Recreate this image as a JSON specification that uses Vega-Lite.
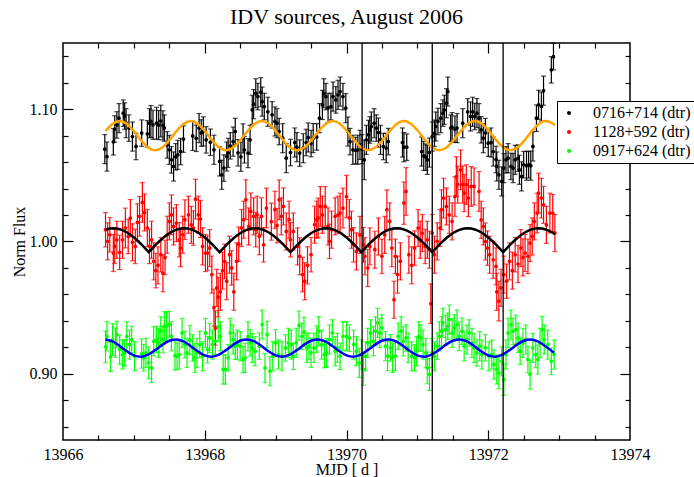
{
"$schema":"https://vega.github.io/schema/vega-lite/v6.json",
"width":567,"height":397,
"autosize":{"type":"none"},
"padding":{"left":63,"top":43,"right":64,"bottom":37},
"background":"white",
"title":{"text":"IDV sources, August 2006","font":"Liberation Serif, Times New Roman, Times, serif","fontSize":22,"fontWeight":"normal","color":"black","anchor":"middle","baseline":"alphabetic","offset":-4,"frame":"group"},
"config":{"view":{"stroke":"black","strokeWidth":1.5},"axis":{"labelFont":"Liberation Serif, Times New Roman, Times, serif","titleFont":"Liberation Serif, Times New Roman, Times, serif","labelFontSize":16,"titleFontSize":16,"titleFontWeight":"normal","labelColor":"black","titleColor":"black","tickColor":"black","tickWidth":1.2,"domain":false,"grid":false,"labelFlush":false}},
"datasets":{
"k":[
{"t":13966.59,"v":1.0698,"e":0.011},{"t":13966.62,"v":1.0642,"e":0.011},{"t":13966.71,"v":1.0753,"e":0.010},{"t":13966.73,"v":1.085,"e":0.010},{"t":13966.76,"v":1.0881,"e":0.010},{"t":13966.79,"v":1.0932,"e":0.011},{"t":13966.85,"v":1.097,"e":0.010},{"t":13966.87,"v":1.0948,"e":0.010},{"t":13966.89,"v":1.0894,"e":0.011},{"t":13966.93,"v":1.0857,"e":0.010},{"t":13966.98,"v":1.0793,"e":0.011},{"t":13967.03,"v":1.0718,"e":0.010},{"t":13967.11,"v":1.0819,"e":0.010},{"t":13967.19,"v":1.0814,"e":0.010},{"t":13967.22,"v":1.0894,"e":0.011},{"t":13967.24,"v":1.0907,"e":0.012},{"t":13967.27,"v":1.0882,"e":0.011},{"t":13967.32,"v":1.0894,"e":0.012},{"t":13967.35,"v":1.088,"e":0.011},{"t":13967.38,"v":1.091,"e":0.012},{"t":13967.41,"v":1.0878,"e":0.011},{"t":13967.43,"v":1.0857,"e":0.010},{"t":13967.47,"v":1.073,"e":0.010},{"t":13967.5,"v":1.0693,"e":0.011},{"t":13967.53,"v":1.0617,"e":0.010},{"t":13967.56,"v":1.0567,"e":0.011},{"t":13967.59,"v":1.064,"e":0.010},{"t":13967.62,"v":1.0655,"e":0.011},{"t":13967.66,"v":1.068,"e":0.010},{"t":13967.7,"v":1.0774,"e":0.010},{"t":13967.83,"v":1.0798,"e":0.011},{"t":13967.88,"v":1.078,"e":0.010},{"t":13967.92,"v":1.0857,"e":0.011},{"t":13967.95,"v":1.082,"e":0.010},{"t":13967.98,"v":1.0832,"e":0.011},{"t":13968.02,"v":1.0768,"e":0.010},{"t":13968.08,"v":1.075,"e":0.010},{"t":13968.13,"v":1.0693,"e":0.011},{"t":13968.21,"v":1.0605,"e":0.011},{"t":13968.24,"v":1.0504,"e":0.011},{"t":13968.27,"v":1.0555,"e":0.010},{"t":13968.31,"v":1.0642,"e":0.011},{"t":13968.33,"v":1.067,"e":0.011},{"t":13968.36,"v":1.0723,"e":0.010},{"t":13968.4,"v":1.0755,"e":0.011},{"t":13968.43,"v":1.0831,"e":0.010},{"t":13968.47,"v":1.067,"e":0.010},{"t":13968.51,"v":1.064,"e":0.011},{"t":13968.54,"v":1.0779,"e":0.011},{"t":13968.56,"v":1.0693,"e":0.010},{"t":13968.61,"v":1.0668,"e":0.011},{"t":13968.64,"v":1.0768,"e":0.011},{"t":13968.67,"v":1.0995,"e":0.011},{"t":13968.69,"v":1.1038,"e":0.011},{"t":13968.72,"v":1.112,"e":0.011},{"t":13968.75,"v":1.1095,"e":0.010},{"t":13968.79,"v":1.1128,"e":0.011},{"t":13968.81,"v":1.1057,"e":0.011},{"t":13968.84,"v":1.102,"e":0.010},{"t":13968.89,"v":1.098,"e":0.011},{"t":13968.95,"v":1.0957,"e":0.010},{"t":13968.99,"v":1.0907,"e":0.011},{"t":13969.02,"v":1.0894,"e":0.011},{"t":13969.05,"v":1.0831,"e":0.010},{"t":13969.1,"v":1.0781,"e":0.011},{"t":13969.15,"v":1.063,"e":0.011},{"t":13969.21,"v":1.0672,"e":0.010},{"t":13969.27,"v":1.0748,"e":0.011},{"t":13969.3,"v":1.0713,"e":0.011},{"t":13969.34,"v":1.0668,"e":0.010},{"t":13969.39,"v":1.0705,"e":0.011},{"t":13969.43,"v":1.0748,"e":0.010},{"t":13969.46,"v":1.0786,"e":0.011},{"t":13969.5,"v":1.074,"e":0.010},{"t":13969.53,"v":1.0781,"e":0.011},{"t":13969.58,"v":1.079,"e":0.010},{"t":13969.62,"v":1.0932,"e":0.011},{"t":13969.66,"v":1.1032,"e":0.011},{"t":13969.68,"v":1.112,"e":0.011},{"t":13969.71,"v":1.1095,"e":0.010},{"t":13969.74,"v":1.101,"e":0.011},{"t":13969.78,"v":1.102,"e":0.010},{"t":13969.81,"v":1.1095,"e":0.011},{"t":13969.85,"v":1.107,"e":0.010},{"t":13969.88,"v":1.1108,"e":0.011},{"t":13969.91,"v":1.1133,"e":0.011},{"t":13969.95,"v":1.1095,"e":0.010},{"t":13969.99,"v":1.1008,"e":0.011},{"t":13970.02,"v":1.0831,"e":0.011},{"t":13970.05,"v":1.0755,"e":0.010},{"t":13970.09,"v":1.0693,"e":0.011},{"t":13970.13,"v":1.0688,"e":0.010},{"t":13970.16,"v":1.0693,"e":0.011},{"t":13970.19,"v":1.073,"e":0.011},{"t":13970.22,"v":1.0698,"e":0.011},{"t":13970.25,"v":1.0617,"e":0.015},{"t":13970.28,"v":1.0768,"e":0.011},{"t":13970.31,"v":1.0806,"e":0.011},{"t":13970.33,"v":1.0843,"e":0.010},{"t":13970.35,"v":1.0869,"e":0.011},{"t":13970.39,"v":1.0894,"e":0.011},{"t":13970.42,"v":1.0857,"e":0.010},{"t":13970.45,"v":1.0823,"e":0.011},{"t":13970.48,"v":1.0768,"e":0.011},{"t":13970.52,"v":1.0718,"e":0.010},{"t":13970.56,"v":1.0706,"e":0.011},{"t":13970.59,"v":1.0755,"e":0.010},{"t":13970.79,"v":1.0748,"e":0.011},{"t":13970.81,"v":1.0713,"e":0.011},{"t":13970.85,"v":1.0713,"e":0.010},{"t":13971.06,"v":1.068,"e":0.011},{"t":13971.09,"v":1.0647,"e":0.011},{"t":13971.12,"v":1.0637,"e":0.010},{"t":13971.14,"v":1.0617,"e":0.011},{"t":13971.17,"v":1.0672,"e":0.011},{"t":13971.21,"v":1.0793,"e":0.011},{"t":13971.24,"v":1.0818,"e":0.010},{"t":13971.26,"v":1.0869,"e":0.011},{"t":13971.29,"v":1.0907,"e":0.010},{"t":13971.33,"v":1.0932,"e":0.011},{"t":13971.36,"v":1.097,"e":0.010},{"t":13971.38,"v":1.0995,"e":0.011},{"t":13971.41,"v":1.1045,"e":0.011},{"t":13971.43,"v":1.1133,"e":0.011},{"t":13971.47,"v":1.0857,"e":0.010},{"t":13971.49,"v":1.0864,"e":0.011},{"t":13971.53,"v":1.0849,"e":0.010},{"t":13971.56,"v":1.0857,"e":0.011},{"t":13971.64,"v":1.0894,"e":0.011},{"t":13971.71,"v":1.098,"e":0.010},{"t":13971.75,"v":1.0945,"e":0.011},{"t":13971.78,"v":1.098,"e":0.011},{"t":13971.81,"v":1.0945,"e":0.010},{"t":13971.84,"v":1.097,"e":0.011},{"t":13971.87,"v":1.0932,"e":0.011},{"t":13971.9,"v":1.0844,"e":0.010},{"t":13971.93,"v":1.0781,"e":0.011},{"t":13971.96,"v":1.082,"e":0.011},{"t":13972.0,"v":1.0743,"e":0.010},{"t":13972.04,"v":1.0748,"e":0.011},{"t":13972.07,"v":1.068,"e":0.011},{"t":13972.11,"v":1.062,"e":0.010},{"t":13972.12,"v":1.0567,"e":0.011},{"t":13972.15,"v":1.0504,"e":0.011},{"t":13972.19,"v":1.0454,"e":0.011},{"t":13972.22,"v":1.0555,"e":0.011},{"t":13972.25,"v":1.0617,"e":0.010},{"t":13972.28,"v":1.063,"e":0.011},{"t":13972.32,"v":1.0567,"e":0.010},{"t":13972.35,"v":1.0555,"e":0.011},{"t":13972.38,"v":1.0617,"e":0.011},{"t":13972.42,"v":1.063,"e":0.010},{"t":13972.44,"v":1.0542,"e":0.011},{"t":13972.47,"v":1.0492,"e":0.011},{"t":13972.5,"v":1.058,"e":0.010},{"t":13972.54,"v":1.0573,"e":0.011},{"t":13972.57,"v":1.058,"e":0.010},{"t":13972.6,"v":1.0573,"e":0.011},{"t":13972.63,"v":1.0718,"e":0.011},{"t":13972.68,"v":1.0932,"e":0.010},{"t":13972.71,"v":1.1033,"e":0.011},{"t":13972.75,"v":1.102,"e":0.011},{"t":13972.78,"v":1.114,"e":0.011},{"t":13972.89,"v":1.1297,"e":0.010},{"t":13972.92,"v":1.1397,"e":0.010}
],
"r":[
{"t":13966.6,"v":1.0089,"e":0.013},{"t":13966.63,"v":1.0001,"e":0.014},{"t":13966.66,"v":1.0051,"e":0.013},{"t":13966.71,"v":0.9913,"e":0.014},{"t":13966.73,"v":0.9963,"e":0.013},{"t":13966.76,"v":1.0013,"e":0.014},{"t":13966.8,"v":0.9918,"e":0.013},{"t":13966.84,"v":1.0013,"e":0.014},{"t":13966.88,"v":1.0102,"e":0.015},{"t":13966.92,"v":1.0038,"e":0.013},{"t":13966.95,"v":1.0177,"e":0.014},{"t":13966.98,"v":0.9994,"e":0.014},{"t":13967.02,"v":0.9963,"e":0.013},{"t":13967.05,"v":1.0145,"e":0.014},{"t":13967.08,"v":1.019,"e":0.015},{"t":13967.12,"v":1.0295,"e":0.015},{"t":13967.15,"v":1.022,"e":0.014},{"t":13967.19,"v":1.0102,"e":0.014},{"t":13967.22,"v":0.9963,"e":0.013},{"t":13967.25,"v":1.0013,"e":0.014},{"t":13967.28,"v":0.985,"e":0.014},{"t":13967.31,"v":0.978,"e":0.013},{"t":13967.34,"v":0.982,"e":0.014},{"t":13967.38,"v":0.99,"e":0.013},{"t":13967.41,"v":0.976,"e":0.014},{"t":13967.44,"v":0.988,"e":0.013},{"t":13967.47,"v":1.0051,"e":0.014},{"t":13967.5,"v":1.0152,"e":0.014},{"t":13967.53,"v":1.0202,"e":0.015},{"t":13967.56,"v":1.0114,"e":0.014},{"t":13967.6,"v":1.0139,"e":0.014},{"t":13967.64,"v":1.0013,"e":0.013},{"t":13967.66,"v":0.995,"e":0.014},{"t":13967.69,"v":1.0051,"e":0.014},{"t":13967.72,"v":1.0165,"e":0.015},{"t":13967.77,"v":1.0202,"e":0.014},{"t":13967.81,"v":1.0126,"e":0.014},{"t":13967.84,"v":1.0102,"e":0.013},{"t":13967.87,"v":1.032,"e":0.015},{"t":13967.91,"v":1.0202,"e":0.014},{"t":13967.94,"v":1.017,"e":0.014},{"t":13967.97,"v":0.9963,"e":0.014},{"t":13968.01,"v":0.9913,"e":0.014},{"t":13968.04,"v":0.9913,"e":0.013},{"t":13968.07,"v":0.995,"e":0.014},{"t":13968.1,"v":0.975,"e":0.014},{"t":13968.13,"v":0.95,"e":0.014},{"t":13968.15,"v":0.9347,"e":0.013},{"t":13968.17,"v":0.965,"e":0.014},{"t":13968.19,"v":0.958,"e":0.015},{"t":13968.22,"v":0.962,"e":0.014},{"t":13968.25,"v":0.978,"e":0.014},{"t":13968.28,"v":0.985,"e":0.013},{"t":13968.31,"v":0.97,"e":0.014},{"t":13968.35,"v":0.99,"e":0.014},{"t":13968.38,"v":0.98,"e":0.013},{"t":13968.41,"v":0.962,"e":0.014},{"t":13968.45,"v":0.985,"e":0.014},{"t":13968.48,"v":0.998,"e":0.013},{"t":13968.52,"v":1.0102,"e":0.014},{"t":13968.55,"v":1.0165,"e":0.014},{"t":13968.58,"v":1.0316,"e":0.015},{"t":13968.62,"v":1.0114,"e":0.014},{"t":13968.65,"v":1.0227,"e":0.014},{"t":13968.69,"v":1.019,"e":0.014},{"t":13968.72,"v":1.0089,"e":0.013},{"t":13968.74,"v":1.0202,"e":0.014},{"t":13968.77,"v":1.004,"e":0.014},{"t":13968.8,"v":1.019,"e":0.014},{"t":13968.83,"v":0.9975,"e":0.013},{"t":13968.87,"v":1.0253,"e":0.015},{"t":13968.94,"v":1.015,"e":0.014},{"t":13968.99,"v":1.024,"e":0.014},{"t":13969.02,"v":1.012,"e":0.013},{"t":13969.05,"v":1.0315,"e":0.015},{"t":13969.08,"v":1.019,"e":0.014},{"t":13969.11,"v":1.0265,"e":0.014},{"t":13969.15,"v":1.0076,"e":0.014},{"t":13969.19,"v":1.0165,"e":0.014},{"t":13969.21,"v":1.0013,"e":0.013},{"t":13969.25,"v":1.0076,"e":0.014},{"t":13969.31,"v":0.9963,"e":0.014},{"t":13969.34,"v":0.9888,"e":0.014},{"t":13969.38,"v":0.975,"e":0.013},{"t":13969.41,"v":0.97,"e":0.014},{"t":13969.45,"v":0.982,"e":0.014},{"t":13969.5,"v":0.99,"e":0.013},{"t":13969.55,"v":1.0127,"e":0.014},{"t":13969.58,"v":1.0165,"e":0.014},{"t":13969.6,"v":1.0178,"e":0.015},{"t":13969.63,"v":1.0265,"e":0.015},{"t":13969.66,"v":1.0202,"e":0.014},{"t":13969.7,"v":1.0265,"e":0.015},{"t":13969.74,"v":1.0114,"e":0.014},{"t":13969.76,"v":1.0001,"e":0.013},{"t":13969.79,"v":1.0089,"e":0.014},{"t":13969.84,"v":1.019,"e":0.014},{"t":13969.88,"v":1.0202,"e":0.014},{"t":13969.91,"v":1.0215,"e":0.015},{"t":13969.95,"v":1.0253,"e":0.015},{"t":13970.0,"v":1.034,"e":0.016},{"t":13970.04,"v":1.0178,"e":0.014},{"t":13970.07,"v":1.0089,"e":0.014},{"t":13970.1,"v":0.9975,"e":0.013},{"t":13970.14,"v":0.9925,"e":0.014},{"t":13970.19,"v":1.005,"e":0.014},{"t":13970.24,"v":0.9975,"e":0.013},{"t":13970.26,"v":0.9888,"e":0.014},{"t":13970.3,"v":0.98,"e":0.014},{"t":13970.33,"v":0.9963,"e":0.014},{"t":13970.4,"v":0.9938,"e":0.014},{"t":13970.45,"v":1.0038,"e":0.014},{"t":13970.5,"v":0.9888,"e":0.013},{"t":13970.54,"v":1.005,"e":0.014},{"t":13970.57,"v":1.024,"e":0.015},{"t":13970.61,"v":1.0152,"e":0.014},{"t":13970.64,"v":0.995,"e":0.014},{"t":13970.67,"v":0.956,"e":0.014},{"t":13970.69,"v":0.9888,"e":0.013},{"t":13970.72,"v":0.975,"e":0.014},{"t":13970.76,"v":0.985,"e":0.014},{"t":13970.81,"v":1.029,"e":0.016},{"t":13970.84,"v":1.0378,"e":0.018},{"t":13970.88,"v":0.99,"e":0.014},{"t":13970.92,"v":0.982,"e":0.014},{"t":13970.96,"v":0.995,"e":0.013},{"t":13971.01,"v":1.0102,"e":0.014},{"t":13971.04,"v":1.0013,"e":0.014},{"t":13971.07,"v":1.0064,"e":0.014},{"t":13971.11,"v":0.9963,"e":0.013},{"t":13971.14,"v":1.0013,"e":0.014},{"t":13971.17,"v":0.9938,"e":0.014},{"t":13971.19,"v":0.953,"e":0.015},{"t":13971.21,"v":1.0064,"e":0.014},{"t":13971.24,"v":0.99,"e":0.014},{"t":13971.28,"v":1.0001,"e":0.014},{"t":13971.32,"v":1.0102,"e":0.014},{"t":13971.34,"v":1.024,"e":0.015},{"t":13971.37,"v":1.0328,"e":0.015},{"t":13971.41,"v":1.0265,"e":0.014},{"t":13971.45,"v":1.0202,"e":0.014},{"t":13971.49,"v":1.0152,"e":0.014},{"t":13971.53,"v":1.034,"e":0.015},{"t":13971.55,"v":1.0491,"e":0.015},{"t":13971.57,"v":1.043,"e":0.014},{"t":13971.61,"v":1.0542,"e":0.015},{"t":13971.64,"v":1.043,"e":0.014},{"t":13971.66,"v":1.0366,"e":0.014},{"t":13971.69,"v":1.043,"e":0.015},{"t":13971.72,"v":1.0328,"e":0.014},{"t":13971.76,"v":1.0416,"e":0.015},{"t":13971.8,"v":1.0416,"e":0.014},{"t":13971.87,"v":1.0378,"e":0.015},{"t":13971.9,"v":1.0164,"e":0.014},{"t":13971.93,"v":1.0114,"e":0.014},{"t":13971.96,"v":1.0,"e":0.014},{"t":13971.99,"v":0.995,"e":0.013},{"t":13972.02,"v":0.99,"e":0.014},{"t":13972.07,"v":0.9862,"e":0.014},{"t":13972.11,"v":0.9812,"e":0.014},{"t":13972.12,"v":0.962,"e":0.014},{"t":13972.15,"v":0.955,"e":0.015},{"t":13972.18,"v":0.965,"e":0.014},{"t":13972.22,"v":0.975,"e":0.014},{"t":13972.26,"v":0.97,"e":0.013},{"t":13972.3,"v":0.985,"e":0.014},{"t":13972.34,"v":0.978,"e":0.014},{"t":13972.38,"v":0.99,"e":0.013},{"t":13972.42,"v":0.983,"e":0.014},{"t":13972.46,"v":0.995,"e":0.014},{"t":13972.49,"v":0.988,"e":0.014},{"t":13972.52,"v":0.9913,"e":0.014},{"t":13972.56,"v":0.9888,"e":0.013},{"t":13972.59,"v":0.9988,"e":0.014},{"t":13972.62,"v":1.0038,"e":0.014},{"t":13972.65,"v":1.0152,"e":0.014},{"t":13972.69,"v":1.0215,"e":0.015},{"t":13972.71,"v":1.0366,"e":0.015},{"t":13972.75,"v":1.0328,"e":0.015},{"t":13972.78,"v":1.0277,"e":0.014},{"t":13972.82,"v":1.0126,"e":0.014},{"t":13972.87,"v":1.0215,"e":0.015},{"t":13972.91,"v":1.0215,"e":0.014},{"t":13972.94,"v":1.0064,"e":0.014}
],
"g":[
{"t":13966.6,"v":0.9204,"e":0.012},{"t":13966.62,"v":0.9284,"e":0.011},{"t":13966.67,"v":0.9128,"e":0.011},{"t":13966.7,"v":0.9259,"e":0.012},{"t":13966.74,"v":0.9234,"e":0.011},{"t":13966.76,"v":0.9297,"e":0.010},{"t":13966.8,"v":0.9183,"e":0.011},{"t":13966.84,"v":0.9146,"e":0.011},{"t":13966.87,"v":0.9158,"e":0.010},{"t":13966.9,"v":0.9284,"e":0.011},{"t":13966.94,"v":0.9221,"e":0.011},{"t":13966.97,"v":0.9259,"e":0.010},{"t":13967.01,"v":0.9133,"e":0.011},{"t":13967.11,"v":0.9153,"e":0.011},{"t":13967.14,"v":0.9121,"e":0.010},{"t":13967.17,"v":0.9158,"e":0.011},{"t":13967.21,"v":0.9083,"e":0.012},{"t":13967.25,"v":0.9045,"e":0.011},{"t":13967.28,"v":0.9246,"e":0.011},{"t":13967.32,"v":0.9259,"e":0.010},{"t":13967.35,"v":0.9234,"e":0.011},{"t":13967.38,"v":0.9322,"e":0.011},{"t":13967.41,"v":0.9259,"e":0.010},{"t":13967.43,"v":0.936,"e":0.011},{"t":13967.46,"v":0.936,"e":0.011},{"t":13967.5,"v":0.9372,"e":0.010},{"t":13967.53,"v":0.9284,"e":0.011},{"t":13967.58,"v":0.9138,"e":0.011},{"t":13967.61,"v":0.9133,"e":0.010},{"t":13967.64,"v":0.9146,"e":0.011},{"t":13967.68,"v":0.9309,"e":0.011},{"t":13967.72,"v":0.9221,"e":0.010},{"t":13967.75,"v":0.9158,"e":0.011},{"t":13967.79,"v":0.9254,"e":0.011},{"t":13967.83,"v":0.9196,"e":0.010},{"t":13967.86,"v":0.9121,"e":0.011},{"t":13967.89,"v":0.9158,"e":0.011},{"t":13967.93,"v":0.9221,"e":0.010},{"t":13967.97,"v":0.9133,"e":0.011},{"t":13968.01,"v":0.9309,"e":0.011},{"t":13968.04,"v":0.9183,"e":0.010},{"t":13968.07,"v":0.9271,"e":0.011},{"t":13968.11,"v":0.9221,"e":0.011},{"t":13968.15,"v":0.9246,"e":0.010},{"t":13968.19,"v":0.9355,"e":0.011},{"t":13968.22,"v":0.9284,"e":0.011},{"t":13968.26,"v":0.9033,"e":0.011},{"t":13968.29,"v":0.9033,"e":0.011},{"t":13968.33,"v":0.9121,"e":0.010},{"t":13968.36,"v":0.9309,"e":0.011},{"t":13968.4,"v":0.9259,"e":0.011},{"t":13968.43,"v":0.9209,"e":0.010},{"t":13968.46,"v":0.9221,"e":0.011},{"t":13968.5,"v":0.9209,"e":0.011},{"t":13968.54,"v":0.9108,"e":0.010},{"t":13968.57,"v":0.9121,"e":0.011},{"t":13968.61,"v":0.9284,"e":0.011},{"t":13968.64,"v":0.9234,"e":0.010},{"t":13968.67,"v":0.9196,"e":0.011},{"t":13968.71,"v":0.9171,"e":0.011},{"t":13968.77,"v":0.9209,"e":0.010},{"t":13968.81,"v":0.9372,"e":0.011},{"t":13968.85,"v":0.9045,"e":0.011},{"t":13968.88,"v":0.9297,"e":0.010},{"t":13968.92,"v":0.902,"e":0.011},{"t":13968.96,"v":0.9133,"e":0.011},{"t":13969.0,"v":0.9234,"e":0.010},{"t":13969.04,"v":0.9146,"e":0.011},{"t":13969.09,"v":0.9133,"e":0.011},{"t":13969.14,"v":0.9196,"e":0.010},{"t":13969.18,"v":0.9234,"e":0.011},{"t":13969.22,"v":0.9221,"e":0.011},{"t":13969.25,"v":0.9133,"e":0.010},{"t":13969.29,"v":0.9234,"e":0.011},{"t":13969.33,"v":0.9365,"e":0.011},{"t":13969.37,"v":0.9284,"e":0.010},{"t":13969.4,"v":0.9317,"e":0.011},{"t":13969.44,"v":0.9196,"e":0.011},{"t":13969.47,"v":0.9209,"e":0.010},{"t":13969.5,"v":0.9158,"e":0.011},{"t":13969.54,"v":0.9196,"e":0.011},{"t":13969.58,"v":0.9262,"e":0.010},{"t":13969.61,"v":0.9322,"e":0.011},{"t":13969.65,"v":0.9221,"e":0.011},{"t":13969.69,"v":0.9146,"e":0.010},{"t":13969.72,"v":0.9158,"e":0.011},{"t":13969.76,"v":0.9259,"e":0.011},{"t":13969.8,"v":0.9309,"e":0.010},{"t":13969.84,"v":0.9171,"e":0.011},{"t":13969.87,"v":0.9196,"e":0.011},{"t":13969.91,"v":0.9133,"e":0.010},{"t":13969.95,"v":0.9284,"e":0.011},{"t":13970.0,"v":0.9284,"e":0.011},{"t":13970.04,"v":0.9271,"e":0.010},{"t":13970.1,"v":0.9221,"e":0.011},{"t":13970.14,"v":0.9171,"e":0.011},{"t":13970.18,"v":0.9083,"e":0.011},{"t":13970.21,"v":0.9146,"e":0.011},{"t":13970.24,"v":0.9033,"e":0.012},{"t":13970.27,"v":0.9133,"e":0.011},{"t":13970.3,"v":0.9234,"e":0.011},{"t":13970.34,"v":0.9309,"e":0.010},{"t":13970.38,"v":0.9246,"e":0.011},{"t":13970.41,"v":0.9322,"e":0.011},{"t":13970.44,"v":0.9385,"e":0.011},{"t":13970.47,"v":0.9309,"e":0.011},{"t":13970.5,"v":0.9347,"e":0.010},{"t":13970.55,"v":0.9209,"e":0.011},{"t":13970.58,"v":0.9133,"e":0.011},{"t":13970.62,"v":0.9196,"e":0.010},{"t":13970.65,"v":0.9121,"e":0.011},{"t":13970.69,"v":0.9133,"e":0.011},{"t":13970.73,"v":0.9284,"e":0.010},{"t":13970.77,"v":0.9322,"e":0.011},{"t":13970.8,"v":0.9246,"e":0.011},{"t":13970.84,"v":0.9271,"e":0.010},{"t":13970.87,"v":0.9196,"e":0.011},{"t":13970.92,"v":0.9133,"e":0.011},{"t":13970.96,"v":0.9121,"e":0.010},{"t":13970.99,"v":0.9171,"e":0.011},{"t":13971.02,"v":0.9284,"e":0.011},{"t":13971.05,"v":0.9271,"e":0.010},{"t":13971.08,"v":0.9221,"e":0.011},{"t":13971.12,"v":0.9158,"e":0.011},{"t":13971.14,"v":0.9045,"e":0.012},{"t":13971.17,"v":0.8995,"e":0.012},{"t":13971.21,"v":0.9158,"e":0.011},{"t":13971.24,"v":0.9133,"e":0.011},{"t":13971.28,"v":0.9209,"e":0.010},{"t":13971.31,"v":0.9284,"e":0.011},{"t":13971.34,"v":0.9322,"e":0.011},{"t":13971.36,"v":0.9385,"e":0.011},{"t":13971.4,"v":0.9334,"e":0.011},{"t":13971.43,"v":0.936,"e":0.010},{"t":13971.45,"v":0.941,"e":0.011},{"t":13971.49,"v":0.9309,"e":0.011},{"t":13971.52,"v":0.9347,"e":0.010},{"t":13971.56,"v":0.9372,"e":0.011},{"t":13971.59,"v":0.9284,"e":0.011},{"t":13971.63,"v":0.9322,"e":0.010},{"t":13971.66,"v":0.9209,"e":0.011},{"t":13971.7,"v":0.9259,"e":0.011},{"t":13971.73,"v":0.9309,"e":0.010},{"t":13971.77,"v":0.9234,"e":0.011},{"t":13971.8,"v":0.9196,"e":0.011},{"t":13971.84,"v":0.9158,"e":0.010},{"t":13971.88,"v":0.9209,"e":0.011},{"t":13971.91,"v":0.9146,"e":0.011},{"t":13971.96,"v":0.9196,"e":0.010},{"t":13972.01,"v":0.9133,"e":0.011},{"t":13972.05,"v":0.9146,"e":0.011},{"t":13972.08,"v":0.907,"e":0.011},{"t":13972.12,"v":0.9033,"e":0.011},{"t":13972.15,"v":0.9008,"e":0.012},{"t":13972.19,"v":0.9095,"e":0.011},{"t":13972.22,"v":0.8957,"e":0.012},{"t":13972.25,"v":0.9146,"e":0.011},{"t":13972.28,"v":0.9309,"e":0.011},{"t":13972.32,"v":0.9372,"e":0.011},{"t":13972.35,"v":0.9322,"e":0.010},{"t":13972.39,"v":0.9334,"e":0.011},{"t":13972.42,"v":0.9271,"e":0.011},{"t":13972.45,"v":0.9171,"e":0.010},{"t":13972.49,"v":0.9234,"e":0.011},{"t":13972.53,"v":0.9259,"e":0.011},{"t":13972.56,"v":0.9108,"e":0.010},{"t":13972.59,"v":0.8995,"e":0.011},{"t":13972.63,"v":0.9196,"e":0.011},{"t":13972.67,"v":0.9146,"e":0.010},{"t":13972.7,"v":0.9108,"e":0.011},{"t":13972.73,"v":0.9234,"e":0.011},{"t":13972.76,"v":0.9334,"e":0.010},{"t":13972.79,"v":0.9259,"e":0.011},{"t":13972.84,"v":0.9221,"e":0.011},{"t":13972.89,"v":0.9095,"e":0.010},{"t":13972.93,"v":0.9146,"e":0.011}
],
"co":[
{"t":13966.6,"v":1.0834},{"t":13966.7,"v":1.0889},{"t":13966.8,"v":1.091},{"t":13966.9,"v":1.0889},{"t":13967.0,"v":1.0834},{"t":13967.1,"v":1.0766},{"t":13967.2,"v":1.0711},{"t":13967.3,"v":1.069},{"t":13967.4,"v":1.0711},{"t":13967.5,"v":1.0765},{"t":13967.6,"v":1.0833},{"t":13967.7,"v":1.0888},{"t":13967.8,"v":1.091},{"t":13967.9,"v":1.089},{"t":13968.0,"v":1.0836},{"t":13968.1,"v":1.0768},{"t":13968.2,"v":1.0712},{"t":13968.3,"v":1.069},{"t":13968.4,"v":1.071},{"t":13968.5,"v":1.0764},{"t":13968.6,"v":1.0831},{"t":13968.7,"v":1.0887},{"t":13968.8,"v":1.091},{"t":13968.9,"v":1.0891},{"t":13969.0,"v":1.0837},{"t":13969.1,"v":1.077},{"t":13969.2,"v":1.0713},{"t":13969.3,"v":1.069},{"t":13969.4,"v":1.0709},{"t":13969.5,"v":1.0762},{"t":13969.6,"v":1.083},{"t":13969.7,"v":1.0886},{"t":13969.8,"v":1.091},{"t":13969.9,"v":1.0892},{"t":13970.0,"v":1.0839},{"t":13970.1,"v":1.0771},{"t":13970.2,"v":1.0714},{"t":13970.3,"v":1.069},{"t":13970.4,"v":1.0708},{"t":13970.5,"v":1.076},{"t":13970.6,"v":1.0828},{"t":13970.7,"v":1.0885},{"t":13970.8,"v":1.091},{"t":13970.9,"v":1.0893},{"t":13971.0,"v":1.0841},{"t":13971.1,"v":1.0773},{"t":13971.2,"v":1.0716},{"t":13971.3,"v":1.069},{"t":13971.4,"v":1.0707},{"t":13971.5,"v":1.0759},{"t":13971.6,"v":1.0826},{"t":13971.7,"v":1.0884},{"t":13971.8,"v":1.091},{"t":13971.9,"v":1.0894},{"t":13972.0,"v":1.0842},{"t":13972.1,"v":1.0775},{"t":13972.2,"v":1.0717},{"t":13972.3,"v":1.069},{"t":13972.4,"v":1.0706},{"t":13972.5,"v":1.0757},{"t":13972.6,"v":1.0825},{"t":13972.7,"v":1.0883},{"t":13972.8,"v":1.091},{"t":13972.9,"v":1.0895},{"t":13972.94,"v":1.0878}
],
"cb":[
{"t":13966.6,"v":0.926},{"t":13966.7,"v":0.9245},{"t":13966.8,"v":0.9211},{"t":13966.9,"v":0.9171},{"t":13967.0,"v":0.914},{"t":13967.1,"v":0.913},{"t":13967.2,"v":0.9145},{"t":13967.3,"v":0.9179},{"t":13967.4,"v":0.9219},{"t":13967.5,"v":0.925},
{"t":13967.6,"v":0.926},{"t":13967.7,"v":0.9245},{"t":13967.8,"v":0.9211},{"t":13967.9,"v":0.9171},{"t":13968.0,"v":0.914},{"t":13968.1,"v":0.913},{"t":13968.2,"v":0.9145},{"t":13968.3,"v":0.9179},{"t":13968.4,"v":0.9219},{"t":13968.5,"v":0.925},
{"t":13968.6,"v":0.926},{"t":13968.7,"v":0.9245},{"t":13968.8,"v":0.9211},{"t":13968.9,"v":0.9171},{"t":13969.0,"v":0.914},{"t":13969.1,"v":0.913},{"t":13969.2,"v":0.9145},{"t":13969.3,"v":0.9179},{"t":13969.4,"v":0.9219},{"t":13969.5,"v":0.925},
{"t":13969.6,"v":0.926},{"t":13969.7,"v":0.9245},{"t":13969.8,"v":0.9211},{"t":13969.9,"v":0.9171},{"t":13970.0,"v":0.914},{"t":13970.1,"v":0.913},{"t":13970.2,"v":0.9145},{"t":13970.3,"v":0.9179},{"t":13970.4,"v":0.9219},{"t":13970.5,"v":0.925},
{"t":13970.6,"v":0.926},{"t":13970.7,"v":0.9245},{"t":13970.8,"v":0.9211},{"t":13970.9,"v":0.9171},{"t":13971.0,"v":0.914},{"t":13971.1,"v":0.913},{"t":13971.2,"v":0.9145},{"t":13971.3,"v":0.9179},{"t":13971.4,"v":0.9219},{"t":13971.5,"v":0.925},
{"t":13971.6,"v":0.926},{"t":13971.7,"v":0.9245},{"t":13971.8,"v":0.9211},{"t":13971.9,"v":0.9171},{"t":13972.0,"v":0.914},{"t":13972.1,"v":0.913},{"t":13972.2,"v":0.9145},{"t":13972.3,"v":0.9179},{"t":13972.4,"v":0.9219},{"t":13972.5,"v":0.925},
{"t":13972.6,"v":0.926},{"t":13972.7,"v":0.9245},{"t":13972.8,"v":0.9211},{"t":13972.9,"v":0.9171},{"t":13972.93,"v":0.916}
],
"ck":[
{"t":13966.61,"v":1.0091},{"t":13966.66,"v":1.0098},{"t":13966.71,"v":1.01},{"t":13966.76,"v":1.0098},{"t":13966.81,"v":1.0091},{"t":13966.86,"v":1.008},{"t":13966.91,"v":1.0066},{"t":13966.96,"v":1.0047},
{"t":13967.01,"v":1.0026},{"t":13967.06,"v":1.0002},{"t":13967.11,"v":0.9976},{"t":13967.16,"v":0.9948},{"t":13967.21,"v":0.992},{"t":13967.26,"v":0.9948},{"t":13967.31,"v":0.9976},{"t":13967.36,"v":1.0002},{"t":13967.41,"v":1.0026},{"t":13967.46,"v":1.0047},{"t":13967.51,"v":1.0066},{"t":13967.56,"v":1.008},{"t":13967.61,"v":1.0091},{"t":13967.66,"v":1.0098},{"t":13967.71,"v":1.01},{"t":13967.76,"v":1.0098},{"t":13967.81,"v":1.0091},{"t":13967.86,"v":1.008},{"t":13967.91,"v":1.0066},{"t":13967.96,"v":1.0047},
{"t":13968.01,"v":1.0026},{"t":13968.06,"v":1.0002},{"t":13968.11,"v":0.9976},{"t":13968.16,"v":0.9948},{"t":13968.21,"v":0.992},{"t":13968.26,"v":0.9948},{"t":13968.31,"v":0.9976},{"t":13968.36,"v":1.0002},{"t":13968.41,"v":1.0026},{"t":13968.46,"v":1.0047},{"t":13968.51,"v":1.0066},{"t":13968.56,"v":1.008},{"t":13968.61,"v":1.0091},{"t":13968.66,"v":1.0098},{"t":13968.71,"v":1.01},{"t":13968.76,"v":1.0098},{"t":13968.81,"v":1.0091},{"t":13968.86,"v":1.008},{"t":13968.91,"v":1.0066},{"t":13968.96,"v":1.0047},
{"t":13969.01,"v":1.0026},{"t":13969.06,"v":1.0002},{"t":13969.11,"v":0.9976},{"t":13969.16,"v":0.9948},{"t":13969.21,"v":0.992},{"t":13969.26,"v":0.9948},{"t":13969.31,"v":0.9976},{"t":13969.36,"v":1.0002},{"t":13969.41,"v":1.0026},{"t":13969.46,"v":1.0047},{"t":13969.51,"v":1.0066},{"t":13969.56,"v":1.008},{"t":13969.61,"v":1.0091},{"t":13969.66,"v":1.0098},{"t":13969.71,"v":1.01},{"t":13969.76,"v":1.0098},{"t":13969.81,"v":1.0091},{"t":13969.86,"v":1.008},{"t":13969.91,"v":1.0066},{"t":13969.96,"v":1.0047},
{"t":13970.01,"v":1.0026},{"t":13970.06,"v":1.0002},{"t":13970.11,"v":0.9976},{"t":13970.16,"v":0.9948},{"t":13970.21,"v":0.992},{"t":13970.26,"v":0.9948},{"t":13970.31,"v":0.9976},{"t":13970.36,"v":1.0002},{"t":13970.41,"v":1.0026},{"t":13970.46,"v":1.0047},{"t":13970.51,"v":1.0066},{"t":13970.56,"v":1.008},{"t":13970.61,"v":1.0091},{"t":13970.66,"v":1.0098},{"t":13970.71,"v":1.01},{"t":13970.76,"v":1.0098},{"t":13970.81,"v":1.0091},{"t":13970.86,"v":1.008},{"t":13970.91,"v":1.0066},{"t":13970.96,"v":1.0047},
{"t":13971.01,"v":1.0026},{"t":13971.06,"v":1.0002},{"t":13971.11,"v":0.9976},{"t":13971.16,"v":0.9948},{"t":13971.21,"v":0.992},{"t":13971.26,"v":0.9948},{"t":13971.31,"v":0.9976},{"t":13971.36,"v":1.0002},{"t":13971.41,"v":1.0026},{"t":13971.46,"v":1.0047},{"t":13971.51,"v":1.0066},{"t":13971.56,"v":1.008},{"t":13971.61,"v":1.0091},{"t":13971.66,"v":1.0098},{"t":13971.71,"v":1.01},{"t":13971.76,"v":1.0098},{"t":13971.81,"v":1.0091},{"t":13971.86,"v":1.008},{"t":13971.91,"v":1.0066},{"t":13971.96,"v":1.0047},
{"t":13972.01,"v":1.0026},{"t":13972.06,"v":1.0002},{"t":13972.11,"v":0.9976},{"t":13972.16,"v":0.9948},{"t":13972.21,"v":0.992},{"t":13972.26,"v":0.9948},{"t":13972.31,"v":0.9976},{"t":13972.36,"v":1.0002},{"t":13972.41,"v":1.0026},{"t":13972.46,"v":1.0047},{"t":13972.51,"v":1.0066},{"t":13972.56,"v":1.008},{"t":13972.61,"v":1.0091},{"t":13972.66,"v":1.0098},{"t":13972.71,"v":1.01},{"t":13972.76,"v":1.0098},{"t":13972.81,"v":1.0091},{"t":13972.86,"v":1.008},{"t":13972.91,"v":1.0066},{"t":13972.94,"v":1.0055}
],
"vl":[{"t":13970.22},{"t":13971.21},{"t":13972.21}]
},
"layer":[
{"data":{"name":"g"},"mark":{"type":"errorbar","ticks":true,"size":5,"thickness":1.2,"color":"#00ff00"},
 "encoding":{"x":{"field":"t","type":"quantitative","scale":{"domain":[13966,13974],"nice":false,"zero":false},"axis":null},
  "y":{"field":"v","type":"quantitative","scale":{"domain":[0.85,1.15],"nice":false,"zero":false},"axis":null},"yError":{"field":"e"}}},
{"data":{"name":"r"},"mark":{"type":"errorbar","ticks":true,"size":5,"thickness":1.2,"color":"#ff0000"},
 "encoding":{"x":{"field":"t","type":"quantitative","scale":{"domain":[13966,13974],"nice":false,"zero":false},"axis":null},
  "y":{"field":"v","type":"quantitative","scale":{"domain":[0.85,1.15],"nice":false,"zero":false},"axis":null},"yError":{"field":"e"}}},
{"data":{"name":"k"},"mark":{"type":"errorbar","ticks":true,"size":5,"thickness":1.2,"color":"#000000"},
 "encoding":{"x":{"field":"t","type":"quantitative","scale":{"domain":[13966,13974],"nice":false,"zero":false},"axis":null},
  "y":{"field":"v","type":"quantitative","scale":{"domain":[0.85,1.15],"nice":false,"zero":false},"axis":null},"yError":{"field":"e"}}},
{"data":{"name":"k"},"mark":{"type":"circle","size":14,"opacity":1},
 "encoding":{"x":{"field":"t","type":"quantitative","scale":{"domain":[13966,13974],"nice":false,"zero":false},"axis":{"orient":"bottom","values":[13968,13970,13972],"labels":false,"tickSize":-10,"title":null}},
  "y":{"field":"v","type":"quantitative","scale":{"domain":[0.85,1.15],"nice":false,"zero":false},"axis":{"orient":"left","values":[0.9,1.0,1.1],"format":".2f","ticks":false,"labelPadding":6,"title":"Norm Flux","titlePadding":2}},
  "color":{"datum":"0716+714 (dtr)","type":"nominal","scale":{"domain":["0716+714 (dtr)","1128+592 (dtr)","0917+624 (dtr)"],"range":["#000000","#ff0000","#00ff00"]},
   "legend":{"orient":"none","legendX":494,"legendY":58,"title":null,"strokeColor":"black","fillColor":"white","padding":4,"symbolOffset":0,"labelFont":"Liberation Serif, Times New Roman, Times, serif","labelFontSize":16,"labelColor":"black","symbolSize":16,"symbolType":"circle","labelOffset":16,"rowPadding":3,"labelLimit":0}}}},
{"data":{"name":"r"},"mark":{"type":"circle","size":14,"opacity":1},
 "encoding":{"x":{"field":"t","type":"quantitative","scale":{"domain":[13966,13974],"nice":false,"zero":false},"axis":{"orient":"bottom","values":[13966.5,13967,13967.5,13968.5,13969,13969.5,13970.5,13971,13971.5,13972.5,13973,13973.5],"labels":false,"tickSize":-5,"title":null}},
  "y":{"field":"v","type":"quantitative","scale":{"domain":[0.85,1.15],"nice":false,"zero":false},"axis":{"orient":"left","values":[0.9,1.0,1.1],"labels":false,"tickSize":-10,"title":null}},
  "color":{"datum":"1128+592 (dtr)","type":"nominal"}}},
{"data":{"name":"g"},"mark":{"type":"circle","size":14,"opacity":1},
 "encoding":{"x":{"field":"t","type":"quantitative","scale":{"domain":[13966,13974],"nice":false,"zero":false},"axis":{"orient":"top","values":[13968,13970,13972],"labels":false,"tickSize":-10,"title":null}},
  "y":{"field":"v","type":"quantitative","scale":{"domain":[0.85,1.15],"nice":false,"zero":false},"axis":{"orient":"left","values":[0.86,0.88,0.92,0.94,0.96,0.98,1.02,1.04,1.06,1.08,1.12,1.14],"labels":false,"tickSize":-5,"title":null}},
  "color":{"datum":"0917+624 (dtr)","type":"nominal"}}},
{"data":{"name":"co"},"mark":{"type":"line","color":"#ffa500","strokeWidth":2.5,"interpolate":"monotone"},
 "encoding":{"x":{"field":"t","type":"quantitative","scale":{"domain":[13966,13974],"nice":false,"zero":false},"axis":{"orient":"top","values":[13966.5,13967,13967.5,13968.5,13969,13969.5,13970.5,13971,13971.5,13972.5,13973,13973.5],"labels":false,"tickSize":-5,"title":null}},
  "y":{"field":"v","type":"quantitative","scale":{"domain":[0.85,1.15],"nice":false,"zero":false},"axis":{"orient":"right","values":[0.9,1.0,1.1],"labels":false,"tickSize":-10,"title":null}}}},
{"data":{"name":"ck"},"mark":{"type":"line","color":"#000000","strokeWidth":2.5},
 "encoding":{"x":{"field":"t","type":"quantitative","scale":{"domain":[13966,13974],"nice":false,"zero":false},"axis":null},
  "y":{"field":"v","type":"quantitative","scale":{"domain":[0.85,1.15],"nice":false,"zero":false},"axis":{"orient":"right","values":[0.86,0.88,0.92,0.94,0.96,0.98,1.02,1.04,1.06,1.08,1.12,1.14],"labels":false,"tickSize":-5,"title":null}}}},
{"data":{"name":"cb"},"mark":{"type":"line","color":"#0000ff","strokeWidth":2.5,"interpolate":"monotone"},
 "encoding":{"x":{"field":"t","type":"quantitative","scale":{"domain":[13966,13974],"nice":false,"zero":false},"axis":null},
  "y":{"field":"v","type":"quantitative","scale":{"domain":[0.85,1.15],"nice":false,"zero":false},"axis":null}}},
{"data":{"name":"vl"},"mark":{"type":"rule","color":"black","strokeWidth":1.3},
 "encoding":{"x":{"field":"t","type":"quantitative","scale":{"domain":[13966,13974],"nice":false,"zero":false},"axis":{"orient":"bottom","values":[13966,13968,13970,13972,13974],"format":"d","ticks":false,"labelPadding":6,"title":"MJD [ d ]","titlePadding":-1,"labelOverlap":false}}}}
],
"resolve":{"axis":{"x":"independent","y":"independent"}}
}
